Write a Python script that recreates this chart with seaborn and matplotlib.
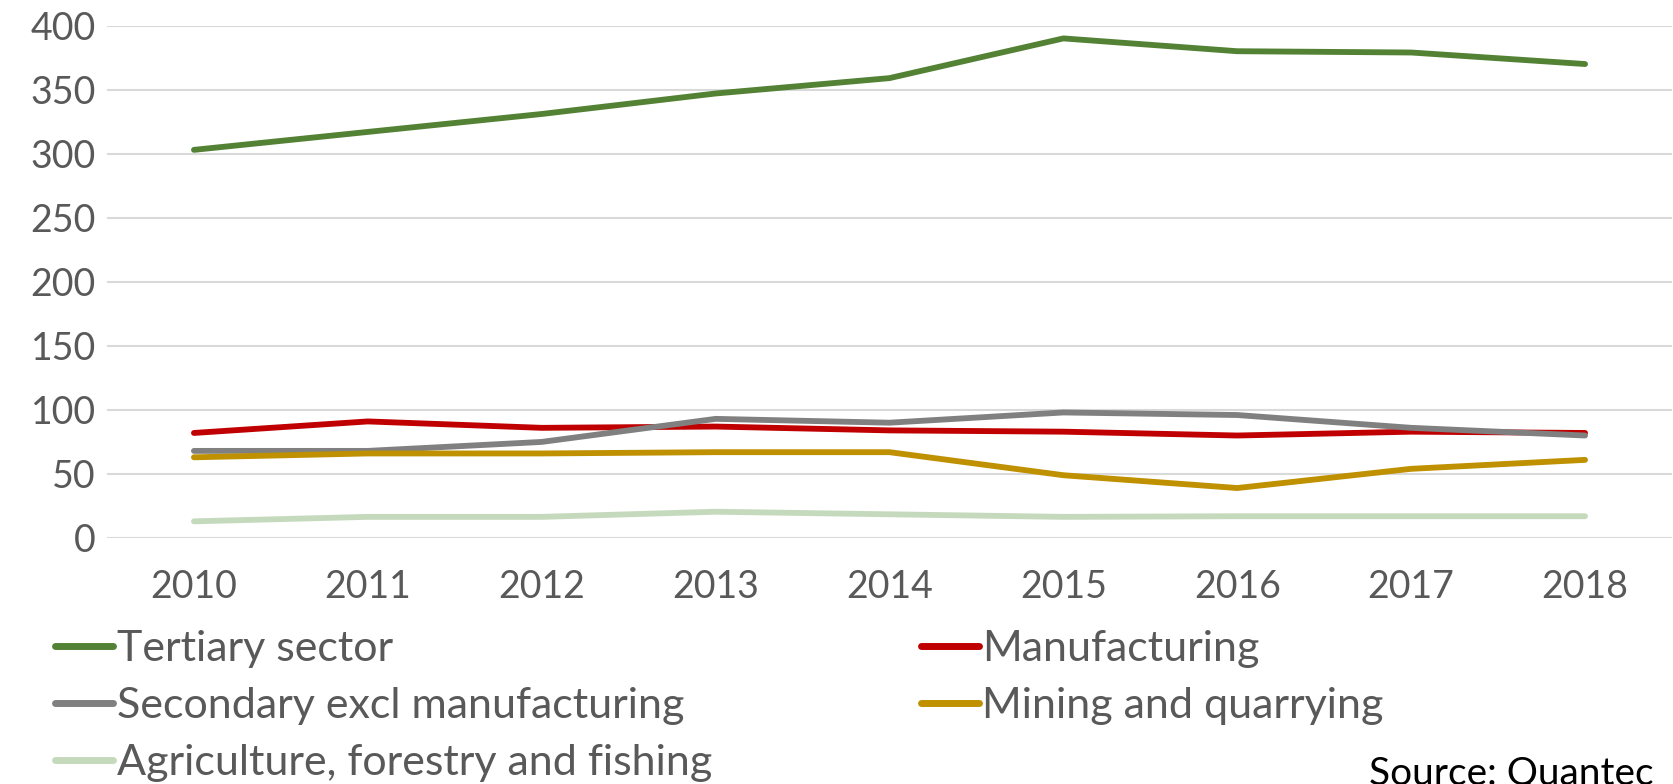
import matplotlib
matplotlib.use("Agg")
import matplotlib.pyplot as plt
import seaborn as sns
import pandas as pd

years = ["2010", "2011", "2012", "2013", "2014", "2015", "2016", "2017", "2018"]
tertiary = [303, 317, 331, 347, 359, 390, 380, 379, 370]
manufacturing = [82, 91, 86, 87, 84, 83, 80, 83, 82]
secondary = [68, 68, 75, 93, 90, 98, 96, 86, 80]
mining = [63, 66, 66, 67, 67, 49, 39, 54, 61]
agriculture = [13, 16.5, 16.5, 20.5, 18.5, 16.5, 17, 17, 17]

series_names = ["Tertiary sector", "Manufacturing", "Secondary excl manufacturing",
                "Mining and quarrying", "Agriculture, forestry and fishing"]
series_values = [tertiary, manufacturing, secondary, mining, agriculture]
colors = ["#548235", "#c00000", "#808080", "#bf9000", "#c5dabd"]
y_ticks = [0, 50, 100, 150, 200, 250, 300, 350, 400]

rows = []
for name, vals in zip(series_names, series_values):
    for i, (yr, v) in enumerate(zip(years, vals)):
        rows.append({"idx": i, "year": yr, "series": name, "value": v})
df = pd.DataFrame(rows)

sns.set_style("white")
plt.rcParams['font.family'] = ['Lato', 'DejaVu Sans']

W, H = 1674, 784
fig = plt.figure(figsize=(W / 100, H / 100), dpi=100)
ax = fig.add_axes([107 / W, 1 - 538 / H, (1672 - 107) / W, (538 - 25.6) / H])

palette = dict(zip(series_names, colors))
sns.lineplot(data=df, x="idx", y="value", hue="series", palette=palette,
             hue_order=series_names, linewidth=4.2, ax=ax, legend=False,
             solid_capstyle="round", solid_joinstyle="round", sort=False)

ax.set_xlim(-0.5, len(years) - 0.5)
ax.set_ylim(0, 400)
ax.set_yticks(y_ticks)
ax.set_xticks(range(len(years)))
ax.set_xticklabels(years)
ax.set_xlabel("")
ax.set_ylabel("")
ax.grid(axis="y", color="#d9d9d9", linewidth=1.5)
ax.grid(axis="x", visible=False)
ax.set_axisbelow(True)
for s in ax.spines.values():
    s.set_visible(False)
ax.tick_params(axis="both", length=0, labelsize=27, colors="#595959")
ax.tick_params(axis="x", pad=22)
ax.tick_params(axis="y", pad=8)

handles = [plt.Line2D([0], [0], color=c, linewidth=5, solid_capstyle="round") for c in colors]
order = [0, 2, 4, 1, 3]
leg = fig.legend([handles[i] for i in order], [series_names[i] for i in order],
                 ncol=2, loc="upper left", bbox_to_anchor=(55 / W, 1 - 630 / H),
                 frameon=False, fontsize=31, handlelength=1.35, handletextpad=0.08,
                 columnspacing=4.85, labelspacing=0.44, borderaxespad=0, borderpad=0)
for t in leg.get_texts():
    t.set_color("#595959")

fig.text(1369 / W, 0 / H, "Source: Quantec", fontsize=28, color="#000000",
         ha="left", va="baseline")

fig.savefig("out.png", dpi=100)
